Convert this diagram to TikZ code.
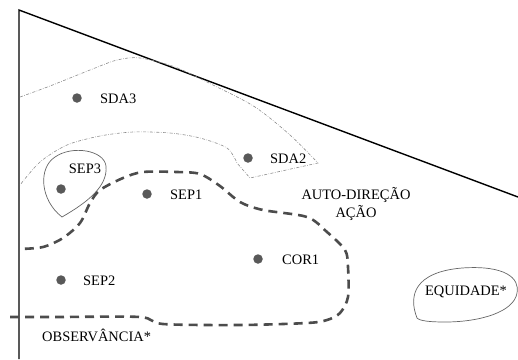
\documentclass[tikz,border=0pt]{standalone}
\usepackage{fontspec}
\setmainfont{Liberation Serif}
\usepackage{tikz}
\newcommand{\lblfont}{\fontsize{14.5}{18}\selectfont}

\begin{document}
\begin{tikzpicture}[x=1bp,y=-1bp,
    every node/.style={font=\lblfont,inner sep=0pt},
    dot/.style={circle,fill=black!65,minimum size=9.5bp},
    axisline/.style={black,line width=1.4bp},
    region/.style={black!45,line width=0.6bp,dash pattern=on 3bp off 1.5bp on 0.6bp off 1.5bp},
    border/.style={black!70,line width=2.6bp,dash pattern=on 9bp off 6bp},
    ring/.style={black!60,line width=0.7bp}]
    \useasboundingbox (0,0) rectangle (518,359);

    \coordinate (top) at (19,10);
    \coordinate (bot) at (19,359);
    \coordinate (end) at (518,197);

    \node[dot] (sda3) at (77,98) {};
    \node[dot] (sda2) at (248,158) {};
    \node[dot] (sep3) at (61,189) {};
    \node[dot] (sep1) at (147,194) {};
    \node[dot] (sep2) at (61,280) {};
    \node[dot] (cor1) at (258,259) {};

    \node[anchor=west] (sda3l) at (100,99) {SDA3};
    \node[anchor=west] (sda2l) at (270,159) {SDA2};
    \node (sep3l) at (85,169) {SEP3};
    \node[anchor=west] (sep1l) at (170,195) {SEP1};
    \node[anchor=west] (sep2l) at (83,281) {SEP2};
    \node[anchor=west] (cor1l) at (282,260) {COR1};
    \node[align=center] (auto) at (356,204) {AUTO-DIREÇÃO\\AÇÃO};
    \node (equi) at (466,292) {EQUIDADE*};
    \node[anchor=west] (obs) at (42,335) {OBSERVÂNCIA*};

    \draw[axisline] (bot) -- (top) -- (end);

    \draw[region] plot[smooth] coordinates {(20,97) (50,86) (90,70) (117,60) (140,58) (175,67) (215,86) (255,107) (290,135) (318,163)}
        -- (250,178)
        -- plot[smooth] coordinates {(237,163) (227,148) (200,138) (170,133) (133,132) (100,136) (67,145) (40,162) (20,185)};

    \draw[ring] (62,217) .. controls (40,200) and (38,168) .. (55,157)
        .. controls (72,145) and (104,150) .. (106,166)
        .. controls (108,186) and (88,202) .. (62,217);

    \draw[border] plot[smooth] coordinates {(10,317) (60,317) (140,317) (163,324) (240,325) (307,323) (327,320) (340,313) (348,297) (348,267) (345,250) (327,232) (307,217) (263,210) (240,202) (220,186) (200,174) (177,172) (143,172) (123,178) (100,190) (90,203) (80,223) (63,238) (43,247) (20,249)};

    \draw[ring] (417,318) .. controls (408,295) and (415,272) .. (462,268)
        .. controls (505,265) and (520,278) .. (517,293)
        .. controls (514,312) and (480,322) .. (445,322)
        .. controls (430,322) and (420,321) .. cycle;
\end{tikzpicture}
\end{document}
